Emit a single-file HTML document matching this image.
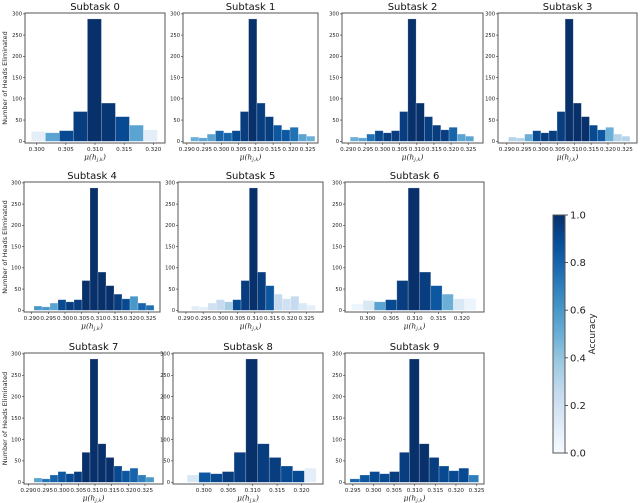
<!DOCTYPE html>
<html><head><meta charset="utf-8"><style>
body{margin:0;background:#fff;}
svg{display:block;font-family:"DejaVu Sans","Liberation Sans",sans-serif;}
</style></head><body>
<svg id="fig" width="640" height="503" viewBox="0 0 640 503">
<defs><linearGradient id="cbg" x1="0" y1="1" x2="0" y2="0">
<stop offset="0" stop-color="#f7fbff"/><stop offset="0.125" stop-color="#deebf7"/><stop offset="0.25" stop-color="#c6dbef"/><stop offset="0.375" stop-color="#9ecae1"/><stop offset="0.5" stop-color="#6baed6"/><stop offset="0.625" stop-color="#4292c6"/><stop offset="0.75" stop-color="#2171b5"/><stop offset="0.875" stop-color="#08519c"/><stop offset="1" stop-color="#08306b"/>
</linearGradient></defs>
</svg>
<script>
// ---- data ----
const subtaskNames = ["Subtask 0","Subtask 1","Subtask 2","Subtask 3","Subtask 4","Subtask 5","Subtask 6","Subtask 7","Subtask 8","Subtask 9"];
const binStarts = [0.2991,0.2911,0.2906,0.2905,0.2907,0.2916,0.2966,0.2917,0.2966,0.2943];
const binWidth = 0.0024;
const counts0 = [23,20,25,70,288,90,58,38,27];
const counts15 = [10,8,17,25,20,25,70,288,90,58,38,27,33,17,12];
const counts6 = [15,23,20,25,70,288,90,58,38,27,28];
const counts8 = [17,23,20,25,70,288,90,58,38,27,33];
const counts9 = [8,17,25,20,25,70,288,90,58,38,27,33,17];
const acc0 = [0.1,0.55,0.9,0.95,1,0.98,0.9,0.55,0.1];
const acc1 = [0.5,0.55,0.55,0.8,0.8,0.9,0.95,1,0.95,0.95,0.85,0.85,0.75,0.55,0.5];
const acc2 = [0.5,0.55,0.75,0.9,0.95,0.95,0.95,1,1,0.95,0.95,0.95,0.8,0.55,0.55];
const acc3 = [0.3,0.3,0.5,0.9,0.95,0.95,0.95,1,1,1,0.9,0.85,0.5,0.3,0.3];
const acc4 = [0.6,0.6,0.55,0.9,0.95,0.95,1,1,1,1,0.95,0.9,0.6,0.8,0.75];
const acc5 = [0.1,0.1,0.2,0.25,0.35,0.9,0.95,1,0.95,0.85,0.25,0.2,0.25,0.15,0.1];
const acc6 = [0.05,0.15,0.55,0.9,0.95,1,0.95,0.85,0.5,0.15,0.05];
const acc7 = [0.55,0.75,0.8,0.85,0.9,0.95,1,1,1,1,0.9,0.85,0.8,0.7,0.6];
const acc8 = [0.15,0.85,0.9,0.95,0.95,1,0.95,0.95,0.9,0.9,0.1];
const acc9 = [0.8,0.85,0.9,0.9,0.95,0.95,1,1,0.95,0.9,0.9,0.9,0.7];
const countsList = [counts0,counts15,counts15,counts15,counts15,counts15,counts6,counts15,counts8,counts9];
const accList = [acc0,acc1,acc2,acc3,acc4,acc5,acc6,acc7,acc8,acc9];
const xDomains = [[0.2980,0.3220],[0.2889,0.3280],[0.2882,0.3293],[0.2874,0.3286],[0.2877,0.3285],[0.2877,0.3298],[0.2952,0.3247],[0.2887,0.3304],[0.2937,0.3244],[0.2931,0.3268]];
const ticks15 = [0.290,0.295,0.300,0.305,0.310,0.315,0.320,0.325];
const ticksA = [0.300,0.305,0.310,0.315,0.320];
const ticks9 = [0.295,0.300,0.305,0.310,0.315,0.320,0.325];
const xTickList = [ticksA,ticks15,ticks15,ticks15,ticks15,ticks15,ticksA,ticks15,ticksA,ticks9];
const yTicks = [0,50,100,150,200,250,300];
const yDomain = [-4,302];
const cbTicks = [0,0.2,0.4,0.6,0.8,1.0];
// ---- layout ----
const boxes = [[25,13,165,143],[183,13,318,143],[342,13,483,143],[498,13,637,143],
 [24,182,160,312],[178,182,323,312],[345,182,484,312],
 [24,353,163,484],[173,353,323,484],[345,353,484,484]];
const NS="http://www.w3.org/2000/svg";
const svg=document.getElementById('fig');
function mk(t,a,p){const e=document.createElementNS(NS,t);for(const k in a)e.setAttribute(k,a[k]);(p||svg).appendChild(e);return e;}
const stops=[[0,[247,251,255]],[0.125,[222,235,247]],[0.25,[198,219,239]],[0.375,[158,202,225]],[0.5,[107,174,214]],[0.625,[66,146,198]],[0.75,[33,113,181]],[0.875,[8,81,156]],[1,[8,48,107]]];
function blues(v){v=Math.max(0,Math.min(1,v));for(let i=1;i<stops.length;i++){if(v<=stops[i][0]){const a=stops[i-1],b=stops[i],t=(v-a[0])/(b[0]-a[0]);return 'rgb('+a[1].map((c,j)=>Math.round(c+(b[1][j]-c)*t)).join(',')+')';}}return 'rgb(8,48,107)';}
for(let s=0;s<10;s++){
  const [L,T,R,B]=boxes[s];const xd=xDomains[s];
  const X=v=>L+(v-xd[0])/(xd[1]-xd[0])*(R-L);
  const Y=v=>B-(v-yDomain[0])/(yDomain[1]-yDomain[0])*(B-T);
  const g=mk('g',{});
  
  
  const c=countsList[s],a=accList[s];
  for(let i=0;i<c.length;i++){
    const x0=X(binStarts[s]+i*binWidth),x1=X(binStarts[s]+(i+1)*binWidth);
    const r=mk('rect',{x:x0,y:Y(c[i]),width:x1-x0,height:Y(0)-Y(c[i]),fill:blues(a[i]),stroke:'rgba(255,255,255,0.35)','stroke-width':0.6},g);
    
    
  }
  const fr=mk('rect',{x:L,y:T,width:R-L,height:B-T,fill:'none',stroke:'#555','stroke-width':1},g);
  
  
  for(const t of yTicks){
    mk('line',{x1:L-2,x2:L,y1:Y(t),y2:Y(t),stroke:'#333','stroke-width':0.6},g);
    const tx=mk('text',{x:L-3,y:Y(t)+1.8,'font-size':5.2,'text-anchor':'end',fill:'#222'},g);tx.textContent=t;
    
    
  }
  for(const t of xTickList[s]){
    mk('line',{x1:X(t),x2:X(t),y1:B,y2:B+2,stroke:'#333','stroke-width':0.6},g);
    const tx=mk('text',{x:X(t),y:B+8,'font-size':5.6,'text-anchor':'middle',fill:'#222'},g);tx.textContent=t.toFixed(3);
    
    
  }
  const xl=mk('text',{x:(L+R)/2,y:B+16.5,'font-size':7.5,'text-anchor':'middle',fill:'#222','font-family':'"DejaVu Serif","Liberation Serif",serif','font-style':'italic'},g);
  xl.innerHTML='μ(h<tspan font-size="5" dy="1.5">j,k</tspan><tspan dy="-1.5">)</tspan>';
  
  
  const ti=mk('text',{x:(L+R)/2,y:T-3,'font-size':10,'text-anchor':'middle',fill:'#111'},g);ti.textContent=subtaskNames[s];
  
  
  if(L<30){
    const yl=mk('text',{x:0,y:0,'font-size':6.5,'text-anchor':'middle',fill:'#222',transform:'translate(7,'+((T+B)/2)+') rotate(-90)'},g);yl.textContent='Number of Heads Eliminated';
    
    
  }
}
// colorbar
const cb=mk('g',{});


const cL=553,cR=565,cT=215,cB=453;
mk('rect',{x:cL,y:cT,width:cR-cL,height:cB-cT,fill:'url(#cbg)',stroke:'#555','stroke-width':1},cb);
for(const t of cbTicks){const y=cB-t*(cB-cT);
  mk('line',{x1:cR,x2:cR+3,y1:y,y2:y,stroke:'#333','stroke-width':0.8},cb);
  const tx=mk('text',{x:cR+5,y:y+3.5,'font-size':10,fill:'#222'},cb);tx.textContent=t.toFixed(1);
  
  
}
const al=mk('text',{x:0,y:0,'font-size':9,'text-anchor':'middle',fill:'#222',transform:'translate(595,'+((cT+cB)/2)+') rotate(-90)'},cb);al.textContent='Accuracy';


</script>
</body></html>
